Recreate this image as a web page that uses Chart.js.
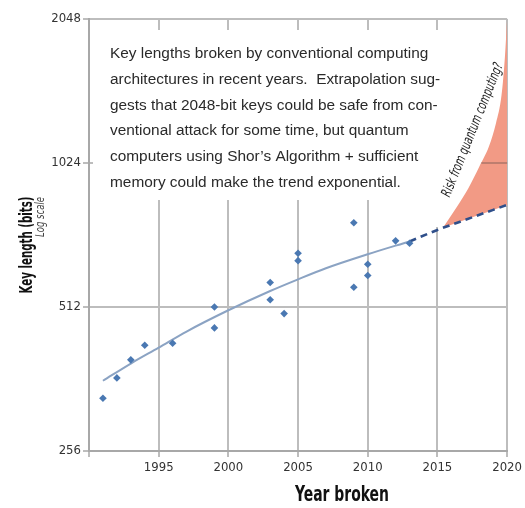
<!DOCTYPE html>
<html>
<head>
<meta charset="utf-8">
<script src="https://cdn.jsdelivr.net/npm/chart.js@4/dist/chart.umd.min.js"></script>
<style>
  html, body { margin: 0; padding: 0; background: #fff; }
  #wrap { width: 525px; height: 508px; position: relative; }
</style>
</head>
<body>
<div id="wrap"><canvas id="c" width="525" height="508"></canvas></div>
<script>
// ---- data ----
const keyYears = [1991, 1992, 1993, 1994, 1996, 1999, 1999, 2003, 2003, 2004, 2005, 2005, 2009, 2009, 2010, 2010, 2012, 2013];
const keyBits  = [330, 364, 397, 426, 430, 463, 512, 530, 576, 496, 640, 663, 768, 563, 596, 629, 704, 696];

const trendYears = [1991, 1993, 1995, 1997, 2000, 2003, 2005, 2007, 2010, 2013];
const trendBits  = [359, 390, 421, 455, 504, 553, 585, 617, 660, 702];

const extrapYears = [2013, 2015, 2017, 2020];
const extrapBits  = [702, 742, 779, 837];

const riskYears = [2015.4, 2016.4, 2017.2, 2018, 2018.7, 2019.2, 2019.6, 2019.85, 2020];
const riskBits  = [750, 830, 905, 1006, 1110, 1240, 1420, 1720, 2048];

const yTickValues = [256, 512, 1024, 2048];
const xTickValues = [1990, 1995, 2000, 2005, 2010, 2015, 2020];

const noteLines = [
  "Key lengths broken by conventional computing",
  "architectures in recent years.  Extrapolation sug-",
  "gests that 2048-bit keys could be safe from con-",
  "ventional attack for some time, but quantum",
  "computers using Shor\u2019s Algorithm + sufficient",
  "memory could make the trend exponential."
];
const riskLabel = "Risk from quantum computing?";
const yTitle = "Key length (bits)";
const ySubTitle = "Log scale";
const xTitle = "Year broken";

const NARROW = "'Liberation Sans Narrow', 'DejaVu Sans Condensed', 'Liberation Sans', sans-serif";
const GRID = '#bdbdbd';

const toPts = (xs, ys) => xs.map((x, i) => ({ x: x, y: ys[i] }));

// draw text squeezed horizontally to a given width (emulates a condensed face)
function fitText(ctx, text, x, y, targetW) {
  const w = ctx.measureText(text).width;
  ctx.save();
  ctx.translate(x, y);
  ctx.scale(targetW / w, 1);
  ctx.fillText(text, 0, 0);
  ctx.restore();
}

const notePlugin = {
  id: 'notes',
  beforeDatasetsDraw(chart) {
    const { ctx, chartArea: a } = chart;
    ctx.save();
    // white text box hiding the gridlines
    ctx.fillStyle = '#ffffff';
    ctx.fillRect(a.left + 4, 30, 505 - (a.left + 4), 170);
    ctx.fillRect(425, 200, 80, 27);
    ctx.fillStyle = '#2a2a2a';
    ctx.font = "15.4px 'Liberation Sans', Arial, sans-serif";
    ctx.textAlign = 'left';
    ctx.textBaseline = 'alphabetic';
    noteLines.forEach((t, i) => ctx.fillText(t, 110, 58.3 + i * 25.7));
    // rotated label
    ctx.translate(473, 130);
    ctx.rotate(-68 * Math.PI / 180);
    ctx.fillStyle = '#222222';
    ctx.font = "italic 14px " + NARROW;
    ctx.textAlign = 'center';
    ctx.textBaseline = 'middle';
    fitText(ctx, riskLabel, 0, 0, 143);
    ctx.restore();
  },
  afterDatasetsDraw(chart) {
    const { ctx, chartArea: a, scales: { x, y } } = chart;
    ctx.save();
    ctx.strokeStyle = 'rgba(150,105,95,0.75)';
    ctx.lineWidth = 1.5;
    const yy = y.getPixelForValue(1024);
    ctx.beginPath();
    ctx.moveTo(x.getPixelForValue(2018.15), yy);
    ctx.lineTo(a.right, yy);
    ctx.stroke();
    ctx.restore();
  },
  afterDraw(chart) {
    const { ctx } = chart;
    ctx.save();
    ctx.fillStyle = '#111111';
    ctx.textBaseline = 'middle';
    // y title
    ctx.save();
    ctx.translate(27, 245);
    ctx.rotate(-Math.PI / 2);
    ctx.font = "bold 18px " + NARROW;
    ctx.textAlign = 'center';
    fitText(ctx, yTitle, 0, 0, 97);
    ctx.restore();
    ctx.save();
    ctx.translate(41, 197);
    ctx.rotate(-Math.PI / 2);
    ctx.font = "italic 13px " + NARROW;
    ctx.fillStyle = '#444444';
    ctx.textAlign = 'right';
    fitText(ctx, ySubTitle, 0, 0, 40);
    ctx.restore();
    // x title
    ctx.font = "bold 21px " + NARROW;
    ctx.textAlign = 'center';
    fitText(ctx, xTitle, 342, 496, 94);
    ctx.restore();
  }
};

new Chart(document.getElementById('c'), {
  type: 'scatter',
  data: {
    datasets: [
      {
        label: 'Key lengths broken',
        data: toPts(keyYears, keyBits),
        pointStyle: 'rectRot',
        pointRadius: 3.8,
        backgroundColor: '#4a78b2',
        borderColor: '#4a78b2',
        borderWidth: 0,
        showLine: false
      },
      {
        label: 'Extrapolation',
        type: 'line',
        data: toPts(extrapYears, extrapBits),
        borderColor: '#2f4f8a',
        borderWidth: 2.6,
        borderDash: [7, 5],
        pointRadius: 0,
        cubicInterpolationMode: 'monotone',
        fill: false
      },
      {
        label: 'Trend',
        type: 'line',
        data: toPts(trendYears, trendBits),
        borderColor: '#8ba3c3',
        borderWidth: 2,
        pointRadius: 0,
        cubicInterpolationMode: 'monotone',
        fill: false
      },
      {
        label: 'Quantum risk',
        type: 'line',
        data: toPts(riskYears, riskBits),
        borderColor: 'rgba(0,0,0,0)',
        borderWidth: 0,
        backgroundColor: '#f29a85',
        pointRadius: 0,
        cubicInterpolationMode: 'monotone',
        fill: 1
      }
    ]
  },
  options: {
    responsive: false,
    animation: false,
    events: [],
    layout: { padding: { left: 0, top: 19, right: 17, bottom: 0 } },
    plugins: {
      legend: { display: false },
      tooltip: { enabled: false },
      title: { display: false }
    },
    scales: {
      x: {
        type: 'linear',
        min: 1990,
        max: 2020,
        afterBuildTicks: s => { s.ticks = xTickValues.map(v => ({ value: v })); },
        afterFit: s => { s.height = 57; },
        border: { color: '#a8a8a8', width: 2 },
        grid: { color: GRID, lineWidth: 2, tickLength: 6, drawTicks: true },
        ticks: {
          padding: 3,
          color: '#333333',
          font: { family: NARROW, size: 13 },
          maxRotation: 0,
          callback: v => (v === 1990 ? '' : String(v))
        }
      },
      y: {
        type: 'logarithmic',
        min: 256,
        max: 2048,
        afterBuildTicks: s => { s.ticks = yTickValues.map(v => ({ value: v })); },
        afterFit: s => { s.width = 89; },
        border: { color: '#a8a8a8', width: 2 },
        grid: { color: GRID, lineWidth: 2, tickLength: 6, drawTicks: true },
        ticks: {
          padding: 2,
          color: '#333333',
          font: { family: NARROW, size: 13 },
          callback: v => String(v)
        }
      }
    }
  },
  plugins: [notePlugin]
});
</script>
</body>
</html>
